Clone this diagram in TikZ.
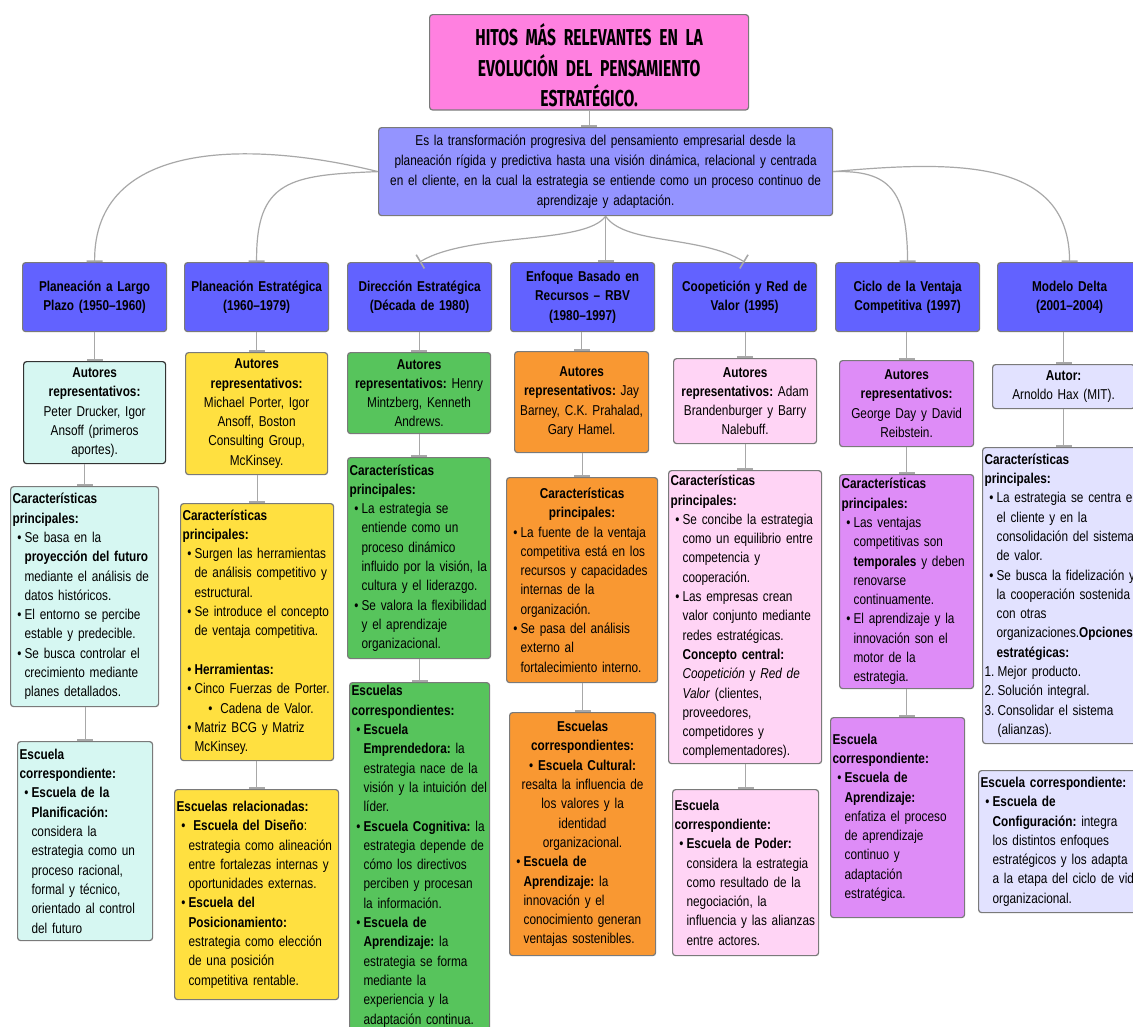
\documentclass[tikz,border=0pt]{standalone}
\usepackage{fontspec}
\setmainfont[FakeStretch=0.825]{Liberation Sans}
\newfontfamily\titlefont[FakeStretch=0.68]{Fira Sans}
\usetikzlibrary{arrows.meta}

\definecolor{titlepink}{HTML}{FF80E0}
\definecolor{descblue}{HTML}{9494FF}
\definecolor{headblue}{HTML}{6262FF}
\definecolor{cyanbox}{HTML}{D6F7F2}
\definecolor{yellowbox}{HTML}{FFE040}
\definecolor{greenbox}{HTML}{57C45C}
\definecolor{orangebox}{HTML}{F99832}
\definecolor{pinkbox}{HTML}{FFD4F5}
\definecolor{purplebox}{HTML}{DE8CF7}
\definecolor{lilacbox}{HTML}{E2E2FF}
\definecolor{boxgray}{HTML}{7A7A7A}
\definecolor{linkgray}{HTML}{A8A8A8}

\hyphenpenalty=10000
\exhyphenpenalty=10000
\newcommand\bodyfont{\fontsize{14.3}{19.3}\selectfont\frenchspacing\spaceskip=3.3pt plus 1pt minus 0.5pt\relax}
\newcommand\titlestyle{\titlefont\bfseries\fontsize{23}{30.5}\selectfont\spaceskip=5pt\relax}
\newcommand\itm[1][0pt]{\par\rightskip=-15pt plus 1fil\relax\hangindent=\dimexpr12pt+#1\relax\hangafter=1\noindent\hspace*{#1}\hbox to 12pt{\hss\textbullet\hskip3pt}}
\newcommand\numitm[1]{\par\hangindent=13pt\hangafter=1\noindent\hbox to 13pt{#1.\hss}}

\tikzset{
    box/.style = {draw=boxgray, line width=1.2pt, rounded corners=3pt, inner xsep=2pt, inner ysep=3pt, anchor=north west, font=\bodyfont, align=left},
    head/.style = {box, fill=headblue, align=center, font=\bodyfont\bfseries, text width=140pt, minimum height=69pt},
    link/.style = {draw=linkgray, line width=1.2pt, -{Bar[width=16pt, line width=1.6pt]}}
}

\begin{document}
\begin{tikzpicture}[x=1pt, y=-1pt]
    \fill[white, use as bounding box] (0,0) rectangle (1133,1026);
    \clip (0,0) rectangle (1133,1026);

    % top
    \node[box, fill=titlepink, align=center, text width=315pt, minimum height=95pt, font=\titlestyle] (title) at (429,14) {\rule{0pt}{28pt}HITOS MÁS RELEVANTES EN LA\\EVOLUCIÓN DEL PENSAMIENTO\\ESTRATÉGICO.};
    \node[box, fill=descblue, align=center, text width=450pt, minimum height=88pt, font=\bodyfont\fontsize{14.3}{20}\selectfont] (desc) at (378,127) {Es la transformación progresiva del pensamiento empresarial desde la\\planeación rígida y predictiva hasta una visión dinámica, relacional y centrada\\en el cliente, en la cual la estrategia se entiende como un proceso continuo de\\aprendizaje y adaptación.};

    % etapas
    \node[head] (h1) at (22,262) {Planeación a Largo\\Plazo (1950–1960)};
    \node[head] (h2) at (184,262) {Planeación Estratégica\\(1960–1979)};
    \node[head] (h3) at (347,262) {Dirección Estratégica\\(Década de 1980)};
    \node[head] (h4) at (510,262) {Enfoque Basado en\\Recursos – RBV\\(1980–1997)};
    \node[head] (h5) at (672,262) {Coopetición y Red de\\Valor (1995)};
    \node[head] (h6) at (835,262) {Ciclo de la Ventaja\\Competitiva (1997)};
    \node[head] (h7) at (997,262) {Modelo Delta\\(2001–2004)};

    % 1950-1960
    \node[box, fill=cyanbox, draw=black!80, align=center, text width=138pt, minimum height=102pt] (a1) at (23,361) {\textbf{Autores}\\\textbf{representativos:}\\Peter Drucker, Igor\\Ansoff (primeros\\aportes).};
    \node[box, fill=cyanbox, text width=144pt, minimum height=220pt] (c1) at (10,486) {\textbf{Características}\\\textbf{principales:}
        \itm Se basa en la\newline\textbf{proyección del futuro}\newline mediante el análisis de\newline datos históricos.
        \itm El entorno se percibe\newline estable y predecible.
        \itm Se busca controlar el\newline crecimiento mediante\newline planes detallados.\par};
    \node[box, fill=cyanbox, text width=131pt, minimum height=199pt] (e1) at (17,741) {\textbf{Escuela}\\\textbf{correspondiente:}
        \itm\textbf{Escuela de la\newline Planificación:}\newline considera la\newline estrategia como un\newline proceso racional,\newline formal y técnico,\newline orientado al control\newline del futuro\par};

    % 1960-1979
    \node[box, fill=yellowbox, align=center, text width=138pt, minimum height=122pt] (a2) at (185,352) {\textbf{Autores}\\\textbf{representativos:}\\Michael Porter, Igor\\Ansoff, Boston\\Consulting Group,\\McKinsey.};
    \node[box, fill=yellowbox, text width=149pt, minimum height=257pt] (c2) at (180,503) {\textbf{Características}\\\textbf{principales:}
        \itm Surgen las herramientas\newline de análisis competitivo y\newline estructural.
        \itm Se introduce el concepto\newline de ventaja competitiva.
        \par\vspace{19.3pt}
        \itm\textbf{Herramientas:}
        \itm Cinco Fuerzas de Porter.
        \itm[21pt] Cadena de Valor.
        \itm Matriz BCG y Matriz\newline McKinsey.\par};
    \node[box, fill=yellowbox, text width=160pt, minimum height=210pt] (e2) at (174,789) {\textbf{Escuelas relacionadas:}
        \itm\ \textbf{Escuela del Diseño}:\newline estrategia como alineación\newline entre fortalezas internas y\newline oportunidades externas.
        \itm\textbf{Escuela del\newline Posicionamiento:}\newline estrategia como elección\newline de una posición\newline competitiva rentable.
        \par\vspace*{11pt}};

    % decada de 1980
    \node[box, fill=greenbox, align=center, text width=139pt, minimum height=81pt] (a3) at (347,352) {\textbf{Autores}\\\textbf{representativos:} Henry\\Mintzberg, Kenneth\\Andrews.};
    \node[box, fill=greenbox, text width=139pt, minimum height=201pt] (c3) at (347,457) {\textbf{Características}\\\textbf{principales:}
        \itm La estrategia se\newline entiende como un\newline proceso dinámico\newline influido por la visión, la\newline cultura y el liderazgo.
        \itm Se valora la flexibilidad\newline y el aprendizaje\newline organizacional.\par};
    \node[box, fill=greenbox, text width=136pt] (e3) at (349,682) {\textbf{Escuelas}\\\textbf{correspondientes:}
        \itm\textbf{Escuela\newline Emprendedora:} la\newline estrategia nace de la\newline visión y la intuición del\newline líder.
        \itm\textbf{Escuela Cognitiva:} la\newline estrategia depende de\newline cómo los directivos\newline perciben y procesan\newline la información.
        \itm\textbf{Escuela de\newline Aprendizaje:} la\newline estrategia se forma\newline mediante la\newline experiencia y la\newline adaptación continua.\par};

    % RBV
    \node[box, fill=orangebox, align=center, text width=130pt, minimum height=101pt] (a4) at (514,351) {\textbf{Autores}\\\textbf{representativos:} Jay\\Barney, C.K. Prahalad,\\Gary Hamel.};
    \node[box, fill=orangebox, text width=147pt, minimum height=205pt] (c4) at (506,477) {{\centering\textbf{Características}\\\textbf{principales:}\par}
        \itm La fuente de la ventaja\newline competitiva está en los\newline recursos y capacidades\newline internas de la\newline organización.
        \itm Se pasa del análisis\newline externo al\newline fortalecimiento interno.\par};
    \node[box, fill=orangebox, text width=142pt, minimum height=243pt] (e4) at (509,712) {{\centering\textbf{Escuelas}\\\textbf{correspondientes:}\\\textbullet\ \textbf{Escuela Cultural:}\\resalta la influencia de\\los valores y la\\identidad\\organizacional.\par}
        \itm\textbf{Escuela de\newline Aprendizaje:} la\newline innovación y el\newline conocimiento generan\newline ventajas sostenibles.\par};

    % 1995
    \node[box, fill=pinkbox, align=center, text width=139pt, minimum height=85pt] (a5) at (673,358) {\textbf{Autores}\\\textbf{representativos:} Adam\\Brandenburger y Barry\\Nalebuff.};
    \node[box, fill=pinkbox, text width=149pt, minimum height=293pt] (c5) at (668,470) {\textbf{Características}\\\textbf{principales:}
        \itm Se concibe la estrategia\newline como un equilibrio entre\newline competencia y\newline cooperación.
        \itm Las empresas crean\newline valor conjunto mediante\newline redes estratégicas.\newline\textbf{Concepto central:}\newline\textit{Coopetición} y \textit{Red de}\newline\textit{Valor} (clientes,\newline proveedores,\newline competidores y\newline complementadores).\par};
    \node[box, fill=pinkbox, text width=142pt, minimum height=166pt] (e5) at (672,789) {\textbf{Escuela}\\\textbf{correspondiente:}
        \itm\textbf{Escuela de Poder:}\newline considera la estrategia\newline como resultado de la\newline negociación, la\newline influencia y las alianzas\newline entre actores.\par};

    % 1997
    \node[box, fill=purplebox, align=center, text width=130pt, minimum height=86pt] (a6) at (839,360) {\textbf{Autores}\\\textbf{representativos:}\\George Day y David\\Reibstein.};
    \node[box, fill=purplebox, text width=130pt, minimum height=214pt] (c6) at (839,474) {\textbf{Características}\\\textbf{principales:}
        \itm Las ventajas\newline competitivas son\newline\textbf{temporales} y deben\newline renovarse\newline continuamente.
        \itm El aprendizaje y la\newline innovación son el\newline motor de la\newline estrategia.\par};
    \node[box, fill=purplebox, text width=130pt, minimum height=200pt] (e6) at (830,717) {\textbf{Escuela}\\\textbf{correspondiente:}
        \itm\textbf{Escuela de\newline Aprendizaje:}\newline enfatiza el proceso\newline de aprendizaje\newline continuo y\newline adaptación\newline estratégica.
        \par\vspace*{20pt}};

    % 2001-2004
    \node[box, fill=lilacbox, align=center, text width=138pt, minimum height=44pt] (a7) at (992,364) {\textbf{Autor:}\\Arnoldo Hax (MIT).};
    \node[box, fill=lilacbox, text width=170pt, minimum height=296pt] (c7) at (982,447) {\textbf{Características}\\\textbf{principales:}
        \itm La estrategia se centra en\newline el cliente y en la\newline consolidación del sistema\newline de valor.
        \itm Se busca la fidelización y\newline la cooperación sostenida\newline con otras\newline\mbox{organizaciones.\textbf{Opciones}}\newline\textbf{estratégicas:}
        \numitm{1}Mejor producto.
        \numitm{2}Solución integral.
        \numitm{3}Consolidar el sistema\newline(alianzas).\par};
    \node[box, fill=lilacbox, text width=174pt, minimum height=142pt] (e7) at (978,770) {\textbf{Escuela correspondiente:}
        \itm\textbf{Escuela de\newline Configuración:} integra\newline los distintos enfoques\newline estratégicos y los adapta\newline a la etapa del ciclo de vida\newline organizacional.\par};

    % conectores
    \draw[link] (title.south) -- (title.south |- desc.north);
    \draw[link] (desc.west) .. controls (250,140) and (94,140) .. (h1.north);
    \draw[link] (desc.west) .. controls (290,175) and (256,180) .. (h2.north);
    \draw[link] (desc.south) .. controls (585,245) and (470,232) .. (h3.north);
    \draw[link] (desc.south) -- (desc.south |- h4.north);
    \draw[link] (desc.south) .. controls (625,245) and (700,235) .. (h5.north);
    \draw[link] (desc.east) .. controls (890,170) and (907,190) .. (h6.north);
    \draw[link] (desc.east) .. controls (960,160) and (1069,160) .. (h7.north);

    \draw[link] (h1.south -| a1.north) -- (a1.north);
    \draw[link] (a1.south -| c1.north) -- (c1.north);
    \draw[link] (c1.south -| e1.north) -- (e1.north);
    \draw[link] (h2.south -| a2.north) -- (a2.north);
    \draw[link] (a2.south -| c2.north) -- (c2.north);
    \draw[link] (c2.south -| e2.north) -- (e2.north);
    \draw[link] (h3.south -| a3.north) -- (a3.north);
    \draw[link] (a3.south -| c3.north) -- (c3.north);
    \draw[link] (c3.south -| e3.north) -- (e3.north);
    \draw[link] (h4.south -| a4.north) -- (a4.north);
    \draw[link] (a4.south -| c4.north) -- (c4.north);
    \draw[link] (c4.south -| e4.north) -- (e4.north);
    \draw[link] (h5.south -| a5.north) -- (a5.north);
    \draw[link] (a5.south -| c5.north) -- (c5.north);
    \draw[link] (c5.south -| e5.north) -- (e5.north);
    \draw[link] (h6.south -| a6.north) -- (a6.north);
    \draw[link] (a6.south -| c6.north) -- (c6.north);
    \draw[link] (c6.south) -- (c6.south |- e6.north);
    \draw[link] (h7.south -| a7.north) -- (a7.north);
    \draw[link] (a7.south) -- (a7.south |- c7.north);
\end{tikzpicture}
\end{document}
